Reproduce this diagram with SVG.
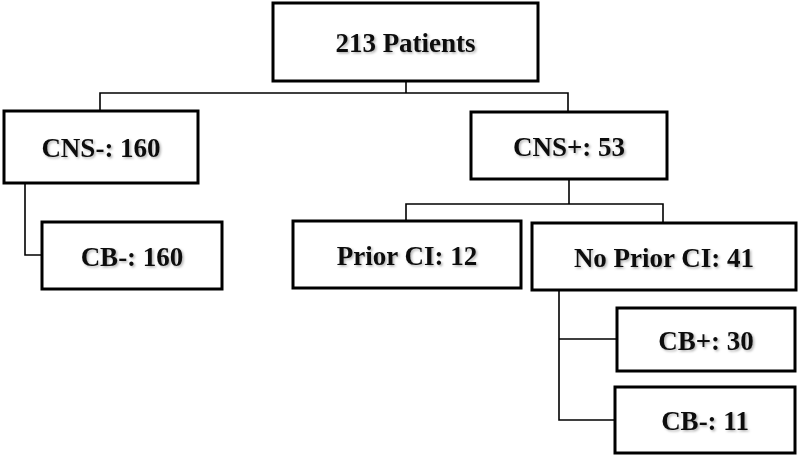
<svg xmlns="http://www.w3.org/2000/svg" width="800" height="460" viewBox="0 0 800 460">
<defs>
<filter id="sh" x="-10%" y="-10%" width="130%" height="140%">
<feDropShadow dx="1.5" dy="1.5" stdDeviation="1" flood-color="#000" flood-opacity="0.3"/>
</filter>
<style>
.box{fill:#fff;stroke:#000;stroke-width:3}
.lbl{font-family:"Liberation Serif","Times New Roman",serif;font-weight:bold;font-size:27px;text-anchor:middle;fill:#111;filter:url(#sh)}
.con{fill:none;stroke:#000;stroke-width:1.6}
</style>
</defs>
<rect width="800" height="460" fill="#fff"/>
<g id="connectors">
<path class="con" d="M406 81V93M100 111V93H568V112"/>
<path class="con" d="M25 183V255H42"/>
<path class="con" d="M569 179V204M406 221V204H663V223"/>
<path class="con" d="M559 290V420H615M559 339H617"/>
</g>
<g id="n_total"><rect class="box" x="273" y="3" width="265" height="78"/><text class="lbl" x="405.5" y="52">213 Patients</text></g>
<g id="n_cnsneg"><rect class="box" x="4" y="111" width="194" height="72"/><text class="lbl" x="101" y="157">CNS-: 160</text></g>
<g id="n_cnspos"><rect class="box" x="471" y="112" width="196" height="67"/><text class="lbl" x="569" y="155.5">CNS+: 53</text></g>
<g id="n_cbneg160"><rect class="box" x="42" y="222" width="180" height="67"/><text class="lbl" x="132" y="265.5">CB-: 160</text></g>
<g id="n_prior"><rect class="box" x="293" y="221" width="228" height="67"/><text class="lbl" x="407" y="264.5">Prior CI: 12</text></g>
<g id="n_noprior"><rect class="box" x="532" y="223" width="264" height="67"/><text class="lbl" x="664" y="266.5">No Prior CI: 41</text></g>
<g id="n_cbpos"><rect class="box" x="617" y="308" width="178" height="63"/><text class="lbl" x="706" y="349.5">CB+: 30</text></g>
<g id="n_cbneg11"><rect class="box" x="615" y="387" width="180" height="66"/><text class="lbl" x="705" y="430">CB-: 11</text></g>
</svg>
